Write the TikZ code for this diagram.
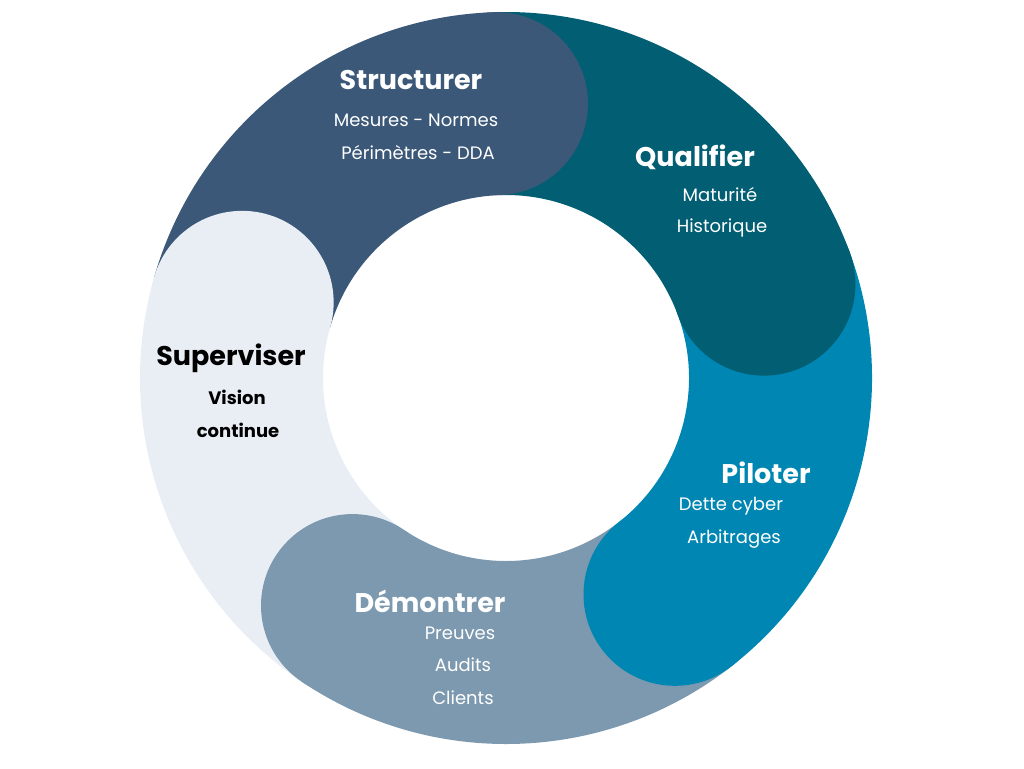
\documentclass[tikz,border=0pt]{standalone}
\usepackage{fontspec}
\setmainfont{Poppins}
\definecolor{cS}{HTML}{3B5878}
\definecolor{cQ}{HTML}{025E72}
\definecolor{cP}{HTML}{0086B2}
\definecolor{cD}{HTML}{7C99AF}
\definecolor{cV}{HTML}{E9EEF5}
\begin{document}
\begin{tikzpicture}[x=1pt,y=1pt,
 ttl/.style={font=\fontsize{27}{30}\selectfont\bfseries,text=white,inner sep=0},
 sub/.style={font=\fontsize{18}{20}\selectfont,text=white,inner sep=0}]
\useasboundingbox (0,0) rectangle (1024,-768);
\def\sector#1#2#3{\fill[#3,shift={(506pt,-378pt)}] (#1:366pt) arc[start angle=#1,end angle=#2,radius=366pt] -- (#2:183pt) arc[start angle=#2,end angle=#1,radius=183pt] -- cycle;}
\def\cap#1#2{\fill[#2,shift={(506pt,-378pt)}] (#1:274.5pt) circle[radius=91.5pt];}
\sector{164}{92}{cS}
\sector{92}{20}{cQ}
\sector{20}{-52}{cP}
\sector{-52}{-124}{cD}
\sector{-124}{-196}{cV}
\cap{92}{cS}
\cap{20}{cQ}
\cap{-52}{cP}
\cap{-124}{cD}
\cap{-196}{cV}
\node[ttl] (t1) at (411,-80) {Structurer};
\node[sub] (s1a) at (416,-120) {Mesures - Normes};
\node[sub] (s1b) at (418,-153) {Périmètres - DDA};
\node[ttl] (t2) at (695,-157) {Qualifier};
\node[sub] (s2a) at (720,-195) {Maturité};
\node[sub] (s2b) at (722,-228) {Historique};
\node[ttl] (t3) at (766,-473) {Piloter};
\node[sub] (s3a) at (731,-506) {Dette cyber};
\node[sub] (s3b) at (734,-539) {Arbitrages};
\node[ttl] (t4) at (430,-601) {Démontrer};
\node[sub] (s4a) at (460,-633) {Preuves};
\node[sub] (s4b) at (463,-665) {Audits};
\node[sub] (s4c) at (463,-698) {Clients};
\node[ttl,text=black] (t5) at (231,-358) {Superviser};
\node[sub,text=black,font=\fontsize{18}{20}\selectfont\bfseries] (s5a) at (237,-397) {Vision};
\node[sub,text=black,font=\fontsize{18}{20}\selectfont\bfseries] (s5b) at (238,-430) {continue};
\end{tikzpicture}
\end{document}
